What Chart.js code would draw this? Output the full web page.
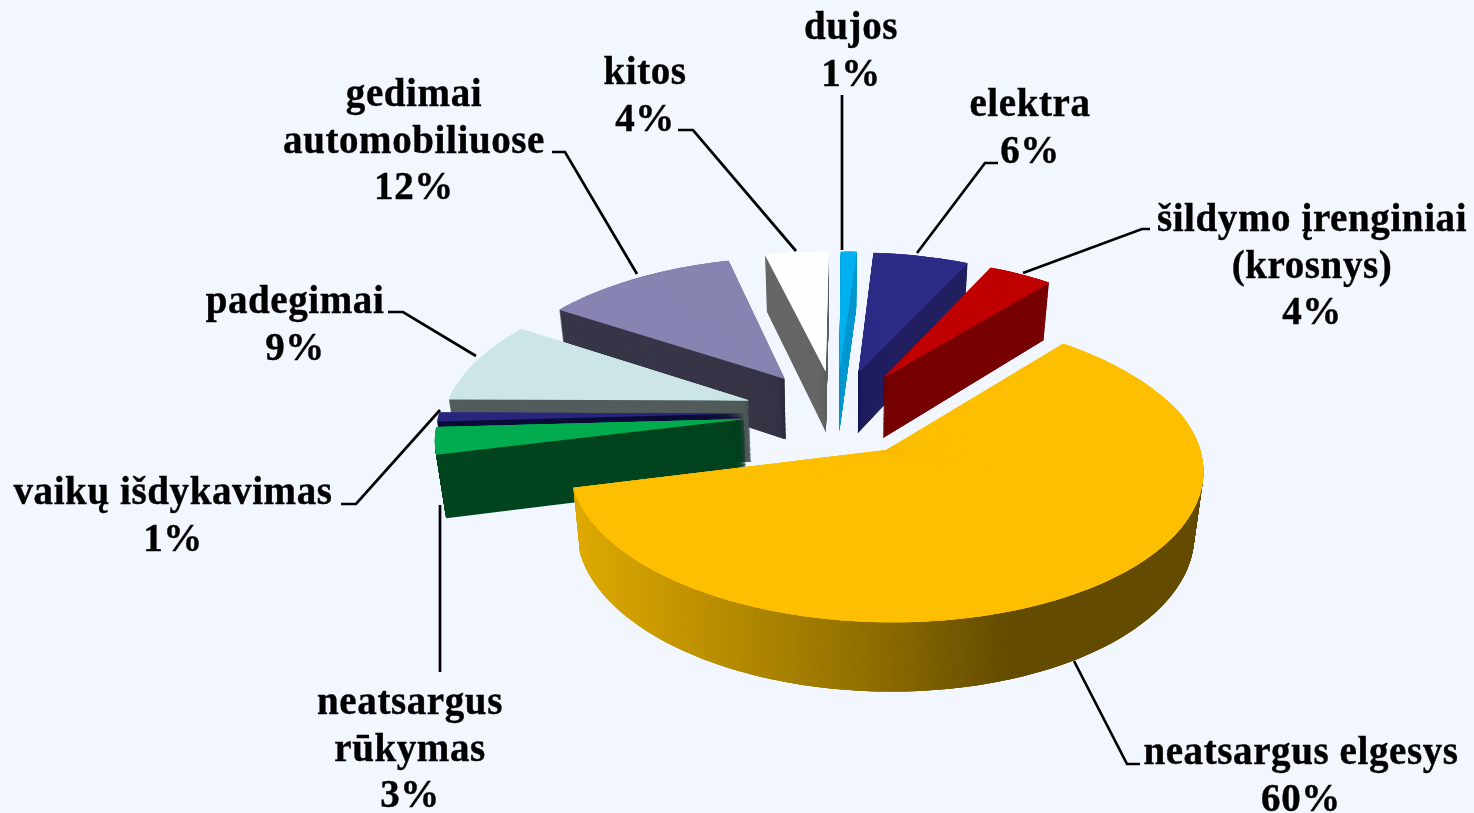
<!DOCTYPE html>
<html lang="lt">
<head>
<meta charset="utf-8">
<title>Gaisrų priežastys</title>
<script src="https://cdn.jsdelivr.net/npm/chart.js@4"></script>
<style>
html,body{margin:0;padding:0;background:#f2f6fe;overflow:hidden}
#wrap{width:1474px;height:813px}
canvas{display:block}
</style>
</head>
<body>
<div id="wrap"><canvas id="c" width="1474" height="813"></canvas></div>
<script>
// ---- data (clockwise from the start of the largest slice) ----
const categories = ["neatsargus elgesys","neatsargus rūkymas","vaikų išdykavimas","padegimai","gedimai automobiliuose","kitos","dujos","elektra","šildymo įrenginiai (krosnys)"];
const values = [60,3,1,9,12,4,1,6,4];

// ---- styles ----
const topColors  = ["#fdbf00","#00ac4f","#28267d","#cce6e8","#8784b2","#fefefe","#00b0f0","#2b2a85","#c00000"];
const wallColors = ["#9a7800","#004520","#0c0c38","#535c5c","#383648","#666666","#0098d0","#211f60","#780000"];
const goldWallStops = [[582,[222,170,0]],[850,[150,116,0]],[1010,[101,77,0]],[1200,[101,77,0]]];
const background = "#f2f6fe";

// ---- layout: 3D projection of the pie plane ----
const view = {cx:836, cy:412.5, fx:305, fy:142.7, persp:0.117, perspRearX:0.15, explode:0.30, depth:62, depthPow:0.7, taper:0.025, step:1, overlapSteps:3};
const startRotation = 40;

// ---- layout: label anchors, same order as categories ----
const labelFont = "bold 39px 'Liberation Serif','Times New Roman',serif";
const labelLineHeight = 46.5;
const labelPlace = [
  {x:1301,y:754,wrapAfter:0},{x:410,y:704,wrapAfter:1},{x:173,y:494,wrapAfter:0},
  {x:295,y:303,wrapAfter:0},{x:414,y:96,wrapAfter:1},{x:645,y:74,wrapAfter:0},
  {x:851,y:29,wrapAfter:0},{x:1030,y:106,wrapAfter:0},{x:1312,y:221,wrapAfter:2}
];
const leaderPaths = [
  [[1140,764],[1127,764],[1074,661]],
  [[440,672],[440,505]],
  [[341,504],[356,504],[440,410]],
  [[388,312],[403,312],[476,356]],
  [[552,152],[565,152],[637,274]],
  [[678,130],[693,130],[796,251]],
  [[842,95],[842,250]],
  [[998,163],[985,163],[917,253]],
  [[1150,229],[1142,229],[1023,273]]
];

function project(u,v,f){
  const w = 1 + view.persp*v;
  const wx = 1 + (v>0 ? view.perspRearX : view.persp)*v;
  const d = view.depth*Math.pow(w,-view.depthPow)*f;
  const k = 1 - view.taper*f;
  return {x: view.cx + view.fx*u/wx*k, y: view.cy - view.fy*v/w + d};
}
function goldAt(x){
  const s = goldWallStops;
  for(let i=1;i<s.length;i++){
    if(x<=s[i][0]){
      const t=Math.max(0,(x-s[i-1][0])/(s[i][0]-s[i-1][0]));
      const c=s[i-1][1].map((a,j)=>Math.round(a+(s[i][1][j]-a)*t));
      return "rgb("+c.join(",")+")";
    }
  }
  return "rgb("+s[s.length-1][1].join(",")+")";
}
// draw one sub-wedge of an arc through the arc element's own draw routine
function drawWedge(ctx,arc,a0,a1,ex,ey,f,color){
  const r=arc.outerRadius, x0=arc.x, y0=arc.y;
  const S=[project(ex,ey,f),
           project(ex+Math.cos(a0),ey-Math.sin(a0),f),
           project(ex+Math.cos(a1),ey-Math.sin(a1),f)];
  const e1=[r*Math.cos(a0),r*Math.sin(a0)], e2=[r*Math.cos(a1),r*Math.sin(a1)];
  const s1=[S[1].x-S[0].x,S[1].y-S[0].y], s2=[S[2].x-S[0].x,S[2].y-S[0].y];
  const det=e1[0]*e2[1]-e2[0]*e1[1];
  const a=(s1[0]*e2[1]-s2[0]*e1[1])/det, c=(s2[0]*e1[0]-s1[0]*e2[0])/det;
  const b=(s1[1]*e2[1]-s2[1]*e1[1])/det, d=(s2[1]*e1[0]-s1[1]*e2[0])/det;
  const E=S[0].x-a*x0-c*y0, F=S[0].y-b*x0-d*y0;
  const el=Object.create(arc);
  el.options=Object.assign({},arc.options,{backgroundColor:color,borderWidth:0,offset:0});
  el.startAngle=a0; el.endAngle=a1; el.circumference=a1-a0;
  ctx.save();
  ctx.transform(a,b,c,d,E,F);
  el.draw(ctx);
  ctx.restore();
}
const pie3d = {
  id:'pie3d',
  beforeDraw(chart){
    const ctx=chart.ctx;
    ctx.save(); ctx.fillStyle=background; ctx.fillRect(0,0,chart.width,chart.height); ctx.restore();
  },
  beforeDatasetsDraw(chart){
    const ctx=chart.ctx, arcs=chart.getDatasetMeta(0).data;
    const items=arcs.map((arc,i)=>{
      const mid=(arc.startAngle+arc.endAngle)/2;
      return {arc,i,ex:view.explode*Math.cos(mid),ey:-view.explode*Math.sin(mid)};
    }).sort((p,q)=>q.ey-p.ey);
    const stepRad=view.step*Math.PI/180;
    for(const it of items){
      const {arc,i,ex,ey}=it;
      const span=arc.endAngle-arc.startAngle;
      const n=Math.max(1,Math.ceil(span/stepRad));
      const dA=span/n;
      const wedges=[];
      for(let k=0;k<n;k++){
        const a0=arc.startAngle+dA*k;
        wedges.push([a0,Math.min(arc.endAngle,a0+dA*view.overlapSteps)]);
      }
      const layers=Math.ceil(view.depth*1.15);
      for(let l=layers;l>=1;l--){
        const f=l/layers;
        for(const [a0,a1] of wedges){
          let col=wallColors[i];
          if(i===0){
            const am=a0+dA/2;
            col=goldAt(project(ex+Math.cos(am),ey-Math.sin(am),f).x);
          }
          drawWedge(ctx,arc,a0,a1,ex,ey,f,col);
        }
      }
      for(const [a0,a1] of wedges) drawWedge(ctx,arc,a0,a1,ex,ey,0,topColors[i]);
    }
    return false;
  },
  afterDraw(chart){
    const ctx=chart.ctx;
    ctx.save();
    ctx.strokeStyle="#000"; ctx.lineWidth=2.7; ctx.lineJoin="miter";
    for(const path of leaderPaths){
      ctx.beginPath();
      path.forEach((p,i)=>i?ctx.lineTo(p[0],p[1]):ctx.moveTo(p[0],p[1]));
      ctx.stroke();
    }
    ctx.fillStyle="#000"; ctx.font=labelFont; ctx.textAlign="center"; ctx.textBaseline="middle";
    ctx.lineWidth=0.4;
    if('letterSpacing' in ctx) ctx.letterSpacing="0.6px";
    categories.forEach((name,i)=>{
      const pl=labelPlace[i], words=name.split(" ");
      const lines=pl.wrapAfter?[words.slice(0,pl.wrapAfter).join(" "),words.slice(pl.wrapAfter).join(" ")]:[name];
      lines.push(values[i]+"%");
      lines.forEach((t,j)=>{
        ctx.fillText(t,pl.x,pl.y+j*labelLineHeight);
        ctx.strokeText(t,pl.x,pl.y+j*labelLineHeight);
      });
    });
    ctx.restore();
  }
};
new Chart(document.getElementById('c'),{
  type:'pie',
  data:{labels:categories,datasets:[{data:values,backgroundColor:topColors,borderWidth:0}]},
  options:{
    responsive:false,animation:false,rotation:startRotation,
    plugins:{legend:{display:false},tooltip:{enabled:false}},
    layout:{padding:0}
  },
  plugins:[pie3d]
});
</script>
</body>
</html>
